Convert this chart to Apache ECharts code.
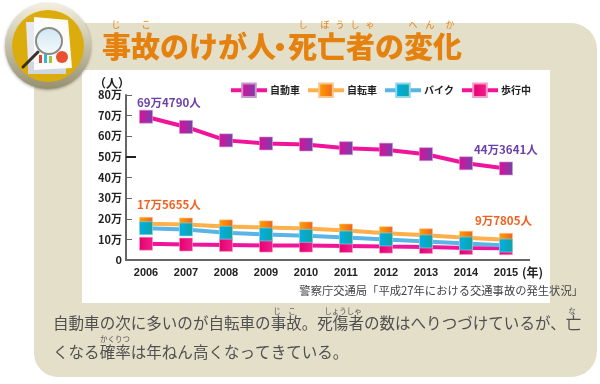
<!DOCTYPE html>
<html>
<head>
<meta charset="utf-8">
<style>
html, body { margin: 0; padding: 0; background: #fff; }
#main { width: 600px; height: 384px; }
</style>
<script src="https://cdn.jsdelivr.net/npm/echarts@6/dist/echarts.min.js"></script>
</head>
<body>
<div id="main"></div>
<script>
const years = ['2006', '2007', '2008', '2009', '2010', '2011', '2012', '2013', '2014', '2015'];
const car = [694790, 645000, 580000, 565000, 560000, 542000, 535000, 513000, 469000, 443641];
const bicycle = [175655, 172000, 163000, 158000, 153000, 143000, 130000, 120000, 108000, 97805];
const bike = [154000, 148000, 132500, 124000, 117000, 109000, 99500, 90000, 80000, 70000];
const walker = [79000, 75000, 73000, 70000, 70000, 68000, 65000, 63000, 58000, 57000];

const FONT = '"Noto Sans CJK JP"';

function grad(c1, c2, vertical) {
    return new echarts.graphic.LinearGradient(0, 0, vertical ? 0 : 1, vertical ? 1 : 0, [
        { offset: 0, color: c1 },
        { offset: 1, color: c2 }
    ]);
}

function txt(text, x, y, size, color, weight, align) {
    return {
        type: 'text', z: 5,
        style: {
            text: text, x: x, y: y, fill: color,
            font: (weight || 'normal') + ' ' + size + 'px ' + FONT,
            textAlign: align || 'left', textVerticalAlign: 'middle'
        }
    };
}

function line(name, data, lineColor, c1, c2, border, vertical) {
    return {
        name: name,
        type: 'line',
        data: data,
        symbol: 'rect',
        symbolSize: 13,
        showSymbol: true,
        animation: false,
        lineStyle: { color: lineColor, width: 4, opacity: 1 },
        itemStyle: { color: grad(c1, c2, vertical), borderColor: border, borderWidth: 0.6, opacity: 1 }
    };
}

const rubies = [
    ['じ', 116, 25], ['こ', 146, 25], ['し', 303, 25], ['ぼ', 325, 25], ['う', 340, 25], ['し', 355, 25],
    ['ゃ', 370, 25], ['へ', 413, 25], ['ん', 430, 25], ['か', 450, 25]
];
const bodyRubies = [
    ['じ', 277, 311], ['こ', 292, 311], ['しょうしゃ', 343, 311], ['な', 572, 311], ['かくりつ', 115, 339]
];

const decor = [
    // panel
    { type: 'rect', z: -5, shape: { x: 34, y: 23, width: 563, height: 354, r: [0, 26, 26, 24] }, style: { fill: '#e4dfc9' } },
    { type: 'rect', z: -4, shape: { x: 82, y: 70, width: 468, height: 233 }, style: { fill: '#fff' } },
    // icon
    { type: 'circle', z: 1, shape: { cx: 48, cy: 46, r: 43 }, style: { fill: grad('#f4f0df', '#97906f', true), shadowBlur: 3, shadowColor: 'rgba(0,0,0,0.35)', shadowOffsetY: 1 } },
    { type: 'circle', z: 1, shape: { cx: 48, cy: 46, r: 36 }, style: { fill: '#dcab0c' } },
    { type: 'rect', z: 1, shape: { x: 28, y: 62, width: 38, height: 12 }, style: { fill: '#cfd6e0' } },
    { type: 'polygon', z: 1, shape: { points: [[26, 22], [36, 22], [38, 62], [28, 62]] }, style: { fill: '#e6eaf0' } },
    { type: 'polygon', z: 1, shape: { points: [[34, 17], [68, 20], [72, 68], [34, 70]] }, style: { fill: '#fbfbf8' } },
    { type: 'rect', z: 1, shape: { x: 39, y: 55, width: 3, height: 8 }, style: { fill: '#e0433a' } },
    { type: 'rect', z: 1, shape: { x: 44, y: 54, width: 3, height: 9 }, style: { fill: '#38b4d8' } },
    { type: 'rect', z: 1, shape: { x: 49, y: 56, width: 3, height: 7 }, style: { fill: '#9cc83c' } },
    { type: 'circle', z: 1, shape: { cx: 62, cy: 57, r: 6 }, style: { fill: '#e8512f' } },
    { type: 'line', z: 1, shape: { x1: 38, y1: 52, x2: 23, y2: 67 }, style: { stroke: '#3a3026', lineWidth: 3, lineCap: 'round' } },
    { type: 'circle', z: 1, shape: { cx: 49, cy: 41, r: 13 }, style: { fill: grad('#cfe6f2', '#f6fbfd', true), stroke: '#8b8b88', lineWidth: 2 } },
    // title
    txt('事故のけが人', 102, 47, 29, '#e5820f', 900),
    txt('・', 280, 47, 29, '#e5820f', 900, 'center'),
    txt('死亡者の変化', 288, 47, 29, '#e5820f', 900),
    // chart notes
    txt('（人）', 112, 83, 12, '#222', 'bold', 'center'),
    txt('(年)', 522, 272, 12, '#222', 'bold'),
    txt('69万4790人', 137, 103, 11.5, '#6b3fa8', 'bold'),
    txt('44万3641人', 474, 150, 11.5, '#6b3fa8', 'bold'),
    txt('17万5655人', 137, 205, 11.5, '#f2601e', 'bold'),
    txt('9万7805人', 475, 221, 11.5, '#f2601e', 'bold'),
    txt('警察庁交通局「平成27年における交通事故の発生状況」', 583, 291, 11.3, '#444', 'normal', 'right'),
    // x axis runs a little past the last band
    { type: 'line', z: 3, shape: { x1: 526, y1: 260, x2: 530, y2: 260 }, style: { stroke: '#666', lineWidth: 2 } },
    // body text
    txt('自動車の次に多いのが自転車の事故。死傷者の数はへりつづけているが、亡', 53, 323, 15.55, '#505050'),
    txt('くなる確率は年ねん高くなってきている。', 53, 352, 15.55, '#505050')
];
rubies.forEach(function (r) { decor.push(txt(r[0], r[1], r[2], 9, '#e5820f', 'normal', 'center')); });
bodyRubies.forEach(function (r) { decor.push(txt(r[0], r[1], r[2], 7.5, '#555', 'normal', 'center')); });

const chart = echarts.init(document.getElementById('main'), null, { renderer: 'canvas' });
chart.setOption({
    animation: false,
    textStyle: { fontFamily: FONT },
    graphic: { elements: decor },
    legend: {
        left: 229,
        top: 82.5,
        itemWidth: 36,
        itemHeight: 17,
        itemGap: 6,
        padding: 0,
        lineStyle: { width: 4 },
        data: ['自動車', '自転車', 'バイク', '歩行中'],
        textStyle: { fontSize: 10, fontWeight: 'bold', color: '#222', padding: [0, 0, 0, -2], fontFamily: FONT }
    },
    grid: { left: 126, top: 95, width: 400, height: 165 },
    xAxis: {
        type: 'category',
        data: years,
        axisLine: { lineStyle: { color: '#666', width: 2 } },
        axisTick: { alignWithLabel: true, length: 4, lineStyle: { color: '#888', width: 1 } },
        axisLabel: { color: '#222', fontSize: 11, fontWeight: 'bold', margin: 7, fontFamily: '"Liberation Sans"' }
    },
    yAxis: [
        {
            type: 'value',
            min: 0,
            max: 800000,
            interval: 100000,
            splitLine: { show: false },
            axisLine: { show: true, lineStyle: { color: '#666', width: 2 } },
            axisTick: { show: true, inside: true, length: 6, lineStyle: { color: '#666', width: 1 } },
            axisLabel: {
                color: '#222', fontSize: 11, fontWeight: 'bold', margin: 4, padding: [2, 0, 0, 0], fontFamily: FONT,
                formatter: function (v) { return v === 0 ? '0' : (v / 10000) + '万'; }
            }
        },
        {
            type: 'value',
            position: 'left',
            min: 0,
            max: 800000,
            interval: 100000,
            splitLine: { show: false },
            axisLine: { show: false },
            axisLabel: { show: false },
            axisTick: { show: true, inside: true, length: 10, customValues: [500000], lineStyle: { color: '#222', width: 2 } }
        }
    ],
    series: [
        line('歩行中', walker, '#f0149a', '#e6006e', '#f0208c', '#f59ac4'),
        line('自転車', bicycle, '#ffb04a', '#ffa000', '#f0641e', '#f9c48a'),
        line('バイク', bike, '#5ab4e6', '#00aee6', '#10a4a8', '#8fd8ea'),
        line('自動車', car, '#f0149a', '#d8109c', '#7a40a8', '#c896d0')
    ]
});
</script>
</body>
</html>
